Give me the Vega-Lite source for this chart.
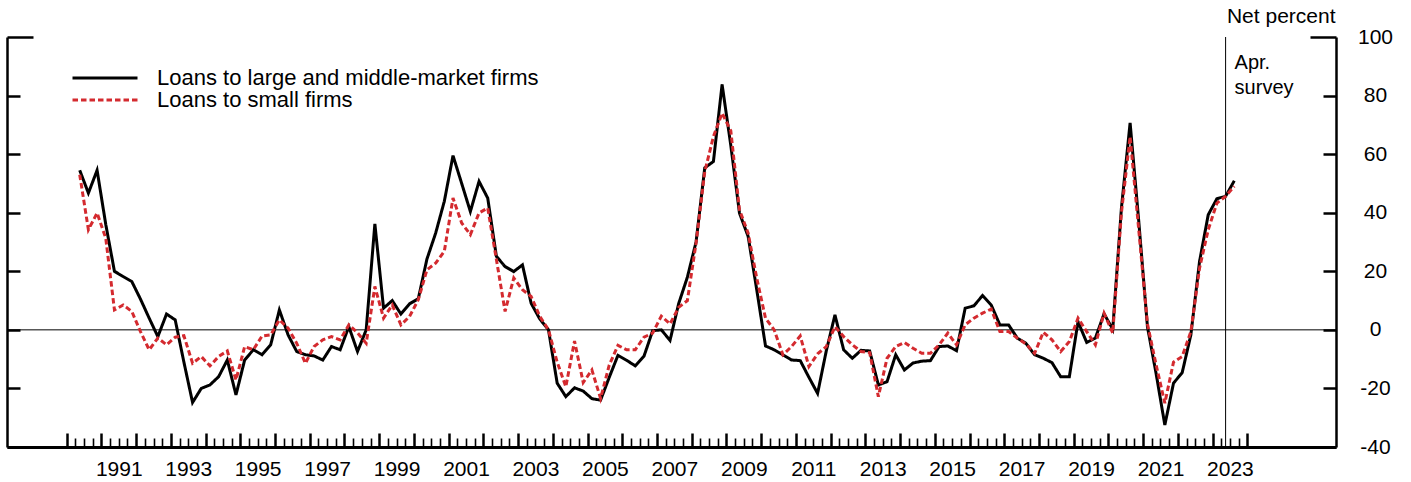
{
  "$schema": "https://vega.github.io/schema/vega-lite/v6.json",
  "width": 1329,
  "height": 410,
  "autosize": {"type": "none"},
  "padding": {"left": 7, "top": 37, "right": 75, "bottom": 35},
  "background": "white",
  "config": {
    "font": "Liberation Sans",
    "view": {"stroke": null},
    "axis": {"grid": false, "labelColor": "black", "titleColor": "black", "tickColor": "black", "domainColor": "black", "titleFontWeight": "normal", "labelFlush": false, "labelOverlap": false},
    "legend": {"orient": "none", "legendX": 64, "legendY": 30, "title": null, "labelFontSize": 22, "labelColor": "black", "labelLimit": 800, "symbolType": "stroke", "symbolSize": 4225, "symbolStrokeWidth": 3, "labelOffset": 18, "clipHeight": 22, "rowPadding": 0, "padding": 0, "offset": 0}
  },
  "data": {"values": [
    {"t":1990.375,"large":54.5,"small":53},{"t":1990.625,"large":46.7,"small":34.2},{"t":1990.875,"large":54.5,"small":39.9},
    {"t":1991.125,"large":36,"small":31.3},{"t":1991.375,"large":20,"small":6.8},{"t":1991.625,"large":18.2,"small":8.5},{"t":1991.875,"large":16.5,"small":6.3},
    {"t":1992.125,"large":10.5,"small":-0.6},{"t":1992.375,"large":4,"small":-6.8},{"t":1992.625,"large":-2.3,"small":-2.8},{"t":1992.875,"large":5.4,"small":-5.1},
    {"t":1993.125,"large":3.4,"small":-2.5},{"t":1993.375,"large":-11,"small":-2},{"t":1993.625,"large":-24.8,"small":-11.4},{"t":1993.875,"large":-20,"small":-9.1},
    {"t":1994.125,"large":-18.8,"small":-12.3},{"t":1994.375,"large":-16,"small":-9.1},{"t":1994.625,"large":-10.3,"small":-7.2},{"t":1994.875,"large":-22.2,"small":-17.1},
    {"t":1995.125,"large":-10.3,"small":-5.7},{"t":1995.375,"large":-6.8,"small":-6.8},{"t":1995.625,"large":-8.5,"small":-2.1},{"t":1995.875,"large":-5.1,"small":-1.7},
    {"t":1996.125,"large":6.8,"small":3.4},{"t":1996.375,"large":-1.7,"small":0.6},{"t":1996.625,"large":-7.4,"small":-4.6},{"t":1996.875,"large":-8.5,"small":-11.4},
    {"t":1997.125,"large":-8.9,"small":-5.7},{"t":1997.375,"large":-10.3,"small":-3.4},{"t":1997.625,"large":-5.7,"small":-2.3},{"t":1997.875,"large":-6.8,"small":-3.4},
    {"t":1998.125,"large":1.1,"small":1.7},{"t":1998.375,"large":-7.4,"small":-1},{"t":1998.625,"large":0,"small":-4.6},{"t":1998.875,"large":36.2,"small":14.8},
    {"t":1999.125,"large":7.4,"small":4},{"t":1999.375,"large":10,"small":8.5},{"t":1999.625,"large":5.4,"small":1.7},{"t":1999.875,"large":8.9,"small":4.6},
    {"t":2000.125,"large":10.6,"small":10.3},{"t":2000.375,"large":24.2,"small":20.5},{"t":2000.625,"large":33,"small":22.8},{"t":2000.875,"large":43.9,"small":26.8},
    {"t":2001.125,"large":59.5,"small":45},{"t":2001.375,"large":50,"small":36.5},{"t":2001.625,"large":40.4,"small":32.5},{"t":2001.875,"large":50.7,"small":39.9},
    {"t":2002.125,"large":45,"small":41.6},{"t":2002.375,"large":25.1,"small":24},{"t":2002.625,"large":21.6,"small":6.3},{"t":2002.875,"large":19.9,"small":17.7},
    {"t":2003.125,"large":22.2,"small":13.7},{"t":2003.375,"large":9.1,"small":11.4},{"t":2003.625,"large":3.7,"small":4.6},{"t":2003.875,"large":0,"small":0},
    {"t":2004.125,"large":-18.2,"small":-11},{"t":2004.375,"large":-22.8,"small":-19.4},{"t":2004.625,"large":-19.8,"small":-3.8},{"t":2004.875,"large":-20.9,"small":-18},
    {"t":2005.125,"large":-23.5,"small":-13.7},{"t":2005.375,"large":-24,"small":-23.4},{"t":2005.625,"large":-16.2,"small":-12},{"t":2005.875,"large":-8.7,"small":-5.3},
    {"t":2006.125,"large":-10.4,"small":-6.8},{"t":2006.375,"large":-12.3,"small":-6.8},{"t":2006.625,"large":-9,"small":-2.5},{"t":2006.875,"large":-0.3,"small":-1.1},
    {"t":2007.125,"large":0,"small":4.7},{"t":2007.375,"large":-3.6,"small":2},{"t":2007.625,"large":9,"small":7.7},{"t":2007.875,"large":18,"small":10},
    {"t":2008.125,"large":30,"small":29.6},{"t":2008.375,"large":55.3,"small":54},{"t":2008.625,"large":57.5,"small":66},{"t":2008.875,"large":83.8,"small":74},
    {"t":2009.125,"large":63,"small":68},{"t":2009.375,"large":39.9,"small":41},{"t":2009.625,"large":31.9,"small":33},{"t":2009.875,"large":13.5,"small":17.5},
    {"t":2010.125,"large":-5.5,"small":4},{"t":2010.375,"large":-6.8,"small":0},{"t":2010.625,"large":-8.5,"small":-8.5},{"t":2010.875,"large":-10.3,"small":-5.7},
    {"t":2011.125,"large":-10.5,"small":-2.1},{"t":2011.375,"large":-16.2,"small":-12.5},{"t":2011.625,"large":-21.7,"small":-8.2},{"t":2011.875,"large":-7.2,"small":-5.7},
    {"t":2012.125,"large":5.1,"small":1.1},{"t":2012.375,"large":-6.8,"small":-2.3},{"t":2012.625,"large":-9.7,"small":-5.1},{"t":2012.875,"large":-7,"small":-7.4},
    {"t":2013.125,"large":-7.2,"small":-7.8},{"t":2013.375,"large":-18.8,"small":-22.8},{"t":2013.625,"large":-17.7,"small":-9.7},{"t":2013.875,"large":-8.5,"small":-5.7},
    {"t":2014.125,"large":-13.7,"small":-4.3},{"t":2014.375,"large":-11.3,"small":-6.3},{"t":2014.625,"large":-10.7,"small":-8},{"t":2014.875,"large":-10.5,"small":-8},
    {"t":2015.125,"large":-5.7,"small":-5.1},{"t":2015.375,"large":-5.5,"small":-1.1},{"t":2015.625,"large":-7.1,"small":-5.1},{"t":2015.875,"large":7.4,"small":1.7},
    {"t":2016.125,"large":8.2,"small":4},{"t":2016.375,"large":11.7,"small":5.7},{"t":2016.625,"large":8.5,"small":7.1},{"t":2016.875,"large":1.7,"small":-0.6},
    {"t":2017.125,"large":1.7,"small":-0.6},{"t":2017.375,"large":-2.8,"small":-2.8},{"t":2017.625,"large":-4.6,"small":-4.8},{"t":2017.875,"large":-8.5,"small":-8},
    {"t":2018.125,"large":-9.7,"small":-0.8},{"t":2018.375,"large":-11.2,"small":-3.4},{"t":2018.625,"large":-16,"small":-7.4},{"t":2018.875,"large":-16,"small":-4},
    {"t":2019.125,"large":2.8,"small":4},{"t":2019.375,"large":-4.3,"small":-0.6},{"t":2019.625,"large":-2.8,"small":-5.1},{"t":2019.875,"large":5.5,"small":5.7},
    {"t":2020.125,"large":0.2,"small":-1.1},{"t":2020.375,"large":41.6,"small":40},{"t":2020.625,"large":70.7,"small":66},{"t":2020.875,"large":37,"small":34},
    {"t":2021.125,"large":1,"small":2},{"t":2021.375,"large":-15,"small":-12},{"t":2021.625,"large":-32.5,"small":-25},{"t":2021.875,"large":-18.2,"small":-11},
    {"t":2022.125,"large":-14.6,"small":-9.1},{"t":2022.375,"large":-1.7,"small":-0.6},{"t":2022.625,"large":23.4,"small":21.1},{"t":2022.875,"large":39.3,"small":34.2},
    {"t":2023.125,"large":44.8,"small":43.3},{"t":2023.375,"large":45.6,"small":45.6},{"t":2023.625,"large":50.9,"small":49}
  ]},
  "layer": [
    {
      "data": {"values": [{}]},
      "mark": {"type": "rule", "color": "black", "strokeWidth": 1},
      "encoding": {
        "x": {"datum": 1988.2807, "type": "quantitative", "scale": {"domain": [1988.2807, 2026.5545], "nice": false, "zero": false},
              "axis": {"orient": "bottom", "title": null, "values": [1990,1991,1992,1993,1994,1995,1996,1997,1998,1999,2000,2001,2002,2003,2004,2005,2006,2007,2008,2009,2010,2011,2012,2013,2014,2015,2016,2017,2018,2019,2020,2021,2022,2023,2024],
                       "labels": false, "ticks": true, "tickSize": -14, "tickWidth": 2.5, "domain": true, "domainWidth": 3}},
        "x2": {"datum": 2026.5545},
        "y": {"datum": 0, "type": "quantitative", "scale": {"domain": [-40, 100], "nice": false, "zero": false},
              "axis": {"orient": "left", "title": null, "values": [-40,-20,0,20,40,60,80], "labels": false, "ticks": true, "tickSize": -13, "tickWidth": 2.5, "domain": true, "domainWidth": 2.5}}
      }
    },
    {
      "data": {"values": [{}]},
      "mark": {"type": "rule", "color": "black", "strokeWidth": 1},
      "encoding": {
        "x": {"datum": 2023.375, "type": "quantitative", "scale": {"domain": [1988.2807, 2026.5545], "nice": false, "zero": false},
              "axis": {"orient": "bottom", "title": null, "labels": false, "ticks": true, "tickSize": -9, "tickWidth": 1.6, "domain": false,
                       "values": [1990.25,1990.5,1990.75,1991.25,1991.5,1991.75,1992.25,1992.5,1992.75,1993.25,1993.5,1993.75,1994.25,1994.5,1994.75,1995.25,1995.5,1995.75,1996.25,1996.5,1996.75,1997.25,1997.5,1997.75,1998.25,1998.5,1998.75,1999.25,1999.5,1999.75,2000.25,2000.5,2000.75,2001.25,2001.5,2001.75,2002.25,2002.5,2002.75,2003.25,2003.5,2003.75,2004.25,2004.5,2004.75,2005.25,2005.5,2005.75,2006.25,2006.5,2006.75,2007.25,2007.5,2007.75,2008.25,2008.5,2008.75,2009.25,2009.5,2009.75,2010.25,2010.5,2010.75,2011.25,2011.5,2011.75,2012.25,2012.5,2012.75,2013.25,2013.5,2013.75,2014.25,2014.5,2014.75,2015.25,2015.5,2015.75,2016.25,2016.5,2016.75,2017.25,2017.5,2017.75,2018.25,2018.5,2018.75,2019.25,2019.5,2019.75,2020.25,2020.5,2020.75,2021.25,2021.5,2021.75,2022.25,2022.5,2022.75,2023.25,2023.5,2023.75]}},
        "y": {"datum": 100, "type": "quantitative", "scale": {"domain": [-40, 100], "nice": false, "zero": false},
              "axis": {"orient": "left", "title": null, "values": [100], "labels": false, "ticks": true, "tickSize": -26, "tickWidth": 2.5, "domain": false}},
        "y2": {"datum": -40}
      }
    },
    {
      "mark": {"type": "line", "strokeWidth": 3, "strokeJoin": "miter"},
      "encoding": {
        "x": {"field": "t", "type": "quantitative", "scale": {"domain": [1988.2807, 2026.5545], "nice": false, "zero": false},
              "axis": {"orient": "bottom", "title": null, "ticks": false, "domain": false, "labelFontSize": 21, "labelBaseline": "alphabetic", "labelPadding": 28,
                       "values": [1991.5,1993.5,1995.5,1997.5,1999.5,2001.5,2003.5,2005.5,2007.5,2009.5,2011.5,2013.5,2015.5,2017.5,2019.5,2021.5,2023.5],
                       "labelExpr": "toString(floor(datum.value))"}},
        "y": {"field": "large", "type": "quantitative", "scale": {"domain": [-40, 100], "nice": false, "zero": false},
              "axis": {"orient": "right", "title": "Net percent", "values": [-40,-20,0,20,40,60,80], "labels": false, "ticks": true, "tickSize": -13, "tickWidth": 2.5, "domain": true, "domainWidth": 2.5,
                       "titleAngle": 0, "titleAlign": "right", "titleBaseline": "middle", "titleX": -1, "titleY": -21, "titleFontSize": 21}},
        "color": {"datum": "Loans to large and middle-market firms", "type": "nominal",
                  "scale": {"domain": ["Loans to large and middle-market firms", "Loans to small firms"], "range": ["#000000", "#d42a2f"]}},
        "strokeDash": {"datum": "Loans to large and middle-market firms", "type": "nominal",
                  "scale": {"domain": ["Loans to large and middle-market firms", "Loans to small firms"], "range": [[1, 0], [5.5, 3]]}}
      }
    },
    {
      "mark": {"type": "line", "strokeWidth": 3, "strokeJoin": "miter"},
      "encoding": {
        "x": {"field": "t", "type": "quantitative", "scale": {"domain": [1988.2807, 2026.5545], "nice": false, "zero": false}, "axis": null},
        "y": {"field": "small", "type": "quantitative", "scale": {"domain": [-40, 100], "nice": false, "zero": false},
              "axis": {"orient": "right", "title": null, "values": [100], "labels": false, "ticks": true, "tickSize": -26, "tickWidth": 2.5, "domain": false}},
        "color": {"datum": "Loans to small firms", "type": "nominal",
                  "scale": {"domain": ["Loans to large and middle-market firms", "Loans to small firms"], "range": ["#000000", "#d42a2f"]}},
        "strokeDash": {"datum": "Loans to small firms", "type": "nominal",
                  "scale": {"domain": ["Loans to large and middle-market firms", "Loans to small firms"], "range": [[1, 0], [5.5, 3]]}}
      }
    },
    {
      "data": {"values": [{}]},
      "mark": {"type": "text", "align": "left", "baseline": "alphabetic", "fontSize": 20, "lineHeight": 25, "dx": 9, "dy": 32, "color": "black"},
      "encoding": {
        "x": {"datum": 2023.375, "type": "quantitative", "scale": {"domain": [1988.2807, 2026.5545], "nice": false, "zero": false}, "axis": null},
        "y": {"datum": 100, "type": "quantitative", "scale": {"domain": [-40, 100], "nice": false, "zero": false},
              "axis": {"orient": "right", "title": null, "values": [-40,-20,0,20,40,60,80,100], "ticks": false, "domain": false, "labelFontSize": 21, "labelAlign": "center", "labelBaseline": "middle", "labelPadding": 39, "labelExpr": "toString(datum.value)"}},
        "text": {"value": ["Apr.", "survey"]}
      }
    }
  ],
  "resolve": {"scale": {"x": "independent", "y": "independent"}, "axis": {"x": "independent", "y": "independent"}}
}
